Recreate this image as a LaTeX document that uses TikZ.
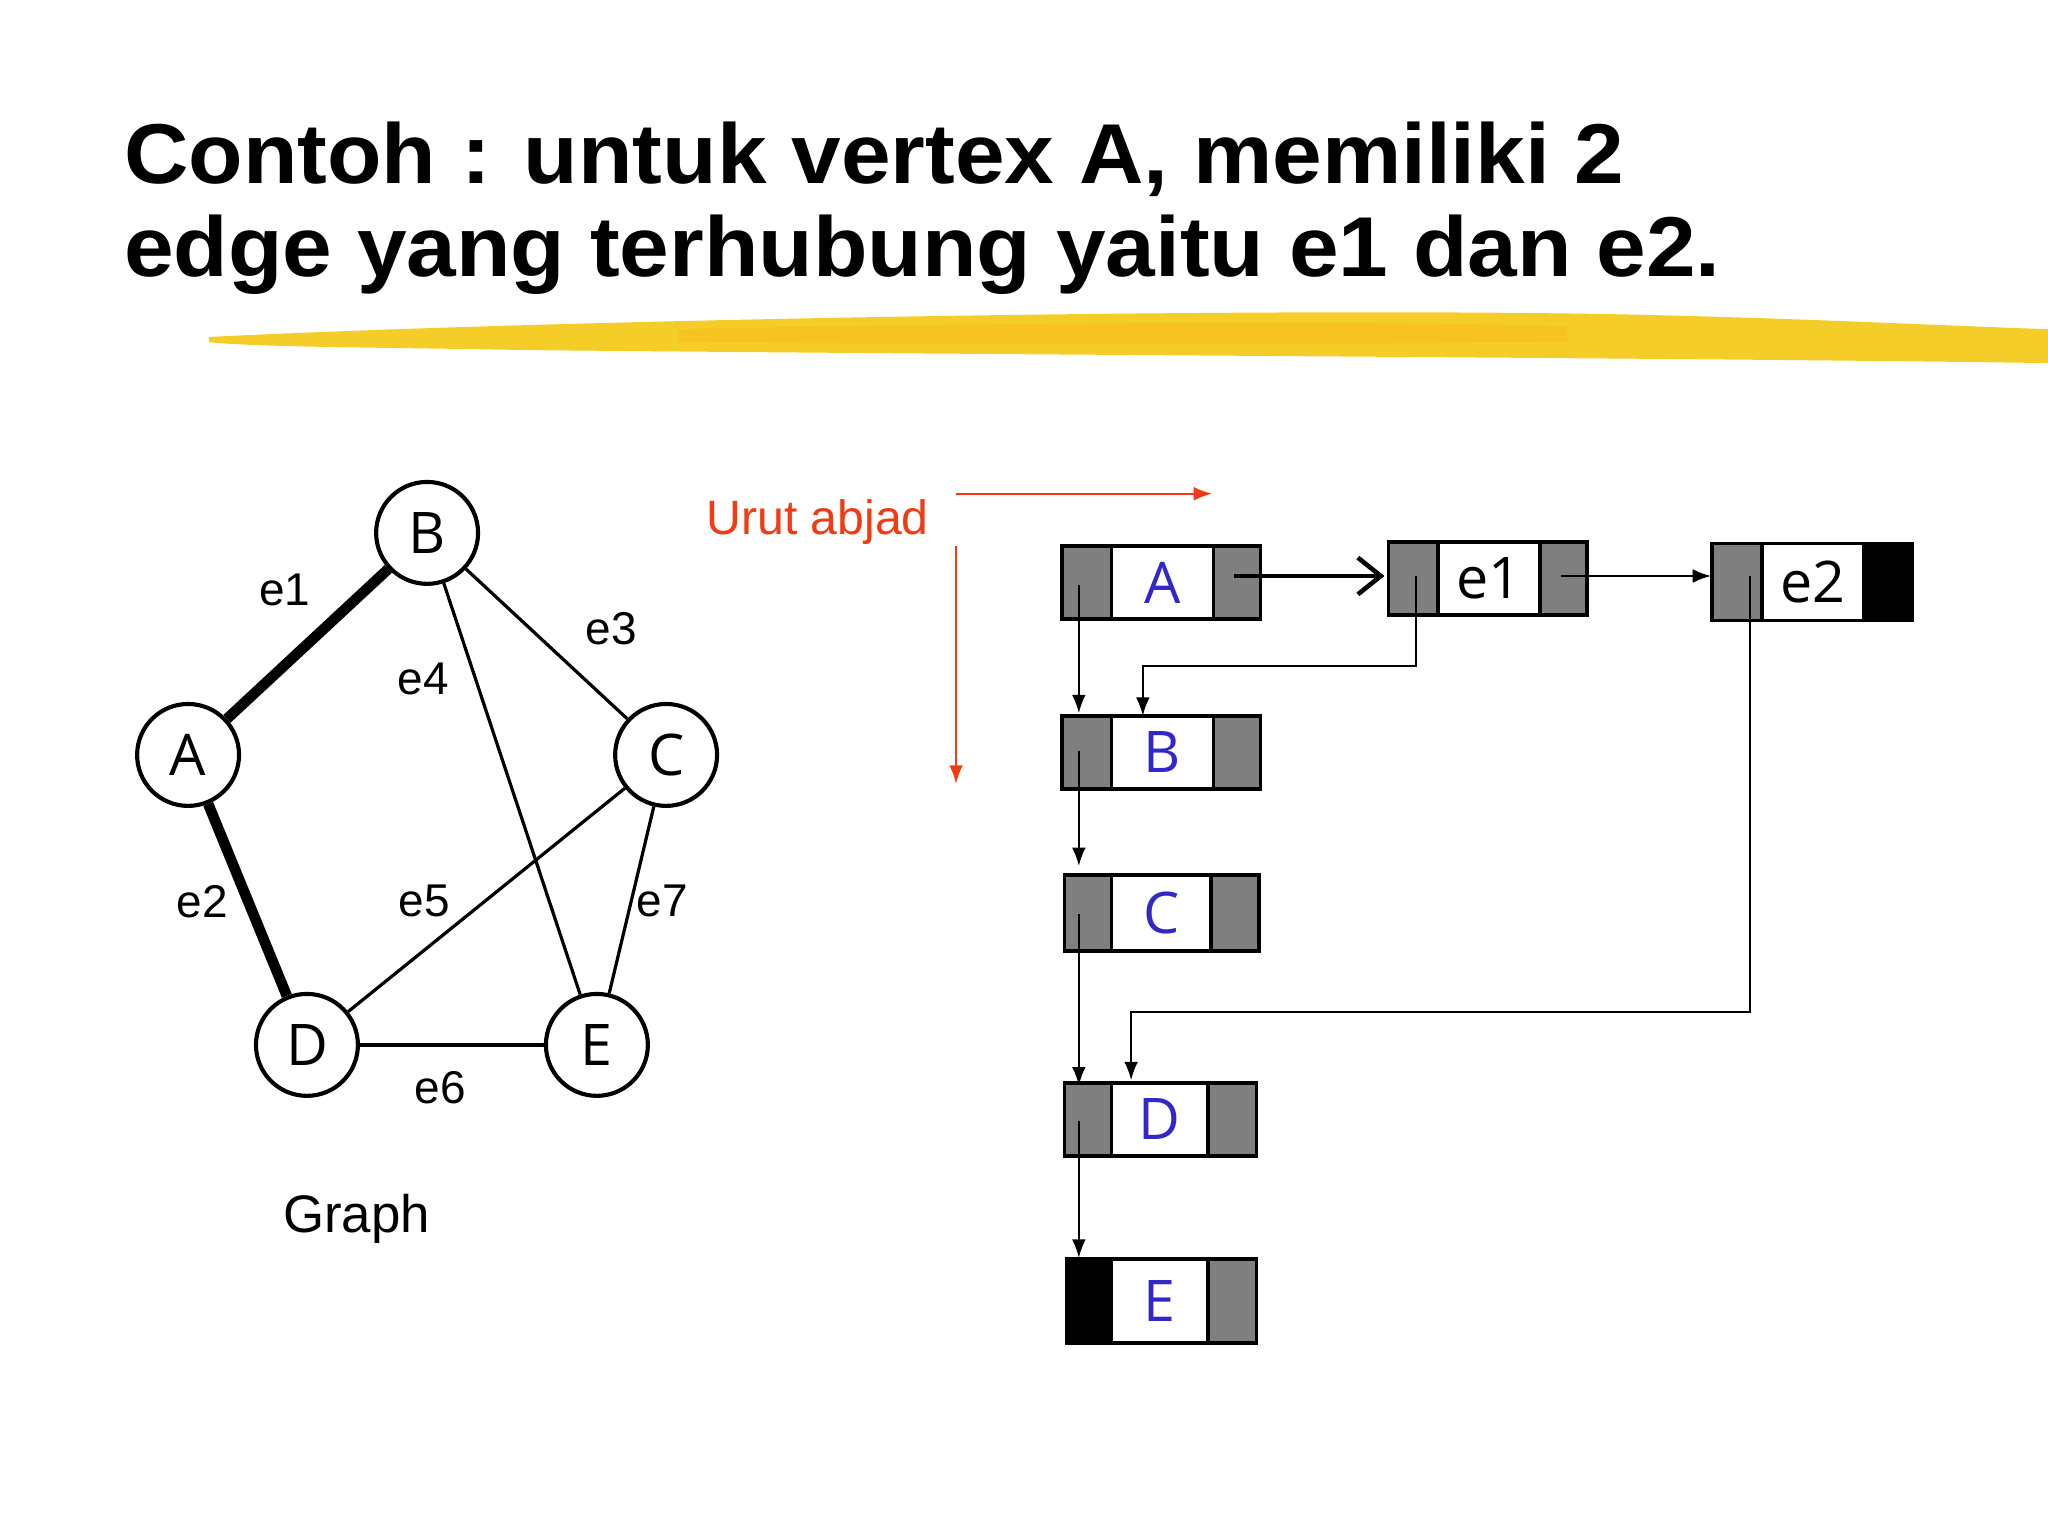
\documentclass[tikz,border=0pt]{standalone}
\usepackage{fontspec}
\setmainfont{Liberation Sans}
\newfontfamily\osans{Open Sans}
\usetikzlibrary{arrows.meta}
\definecolor{gr}{HTML}{7F7F7F}
\definecolor{bl}{RGB}{50,40,200}
\definecolor{rd}{RGB}{240,60,20}
\definecolor{yl}{RGB}{245,205,40}
\begin{document}
\begin{tikzpicture}[x=0.01cm,y=-0.01cm,
 vtx/.style={circle,draw,line width=0.9pt,minimum size=0.78cm,inner sep=0pt,font=\osans\fontsize{12.5}{12.5}\selectfont},
 lbl/.style={font=\fontsize{10}{10}\selectfont},
 cell/.style={draw,line width=0.8pt},
 ltr/.style={text=bl,font=\osans\fontsize{12.5}{12.5}\selectfont},
 thin/.style={line width=0.4pt},
 tip/.style={-{Latex[length=4pt,width=3pt]}}]
\useasboundingbox (0,0) rectangle (1568,1176);
% title
\node[anchor=west,font=\bfseries\fontsize{18.5}{18.5}\selectfont,xscale=1.05] (t1) at (82,122) {Contoh : untuk vertex A, memiliki 2};
\node[anchor=west,font=\bfseries\fontsize{18.5}{18.5}\selectfont,xscale=1.05] (t2) at (82,195) {edge yang terhubung yaitu e1 dan e2.};
% brush stroke
\fill[yl] (160,258) .. controls (400,246) and (900,236) .. (1200,240) .. controls (1350,242) and (1500,250) .. (1568,252) -- (1568,278) .. controls (1300,274) and (800,272) .. (400,268) .. controls (300,266) and (200,266) .. (160,262) -- cycle;
\fill[yl!80!orange,opacity=0.6] (520,252) .. controls (800,246) and (1100,246) .. (1200,250) -- (1200,262) .. controls (1000,264) and (700,264) .. (520,262) -- cycle;
% graph
\node[vtx] (B) at (327,408) {B};
\node[vtx] (A) at (144,578) {A};
\node[vtx] (C) at (510,578) {C};
\node[vtx] (D) at (235,800) {D};
\node[vtx] (E) at (457,800) {E};
\draw[line width=2.3pt] (A) -- (B);
\draw[line width=2.3pt] (A) -- (D);
\draw[line width=0.7pt] (B) -- (C);
\draw[line width=0.7pt] (B) -- (E);
\draw[line width=0.7pt] (C) -- (D);
\draw[line width=0.7pt] (C) -- (E);
\draw[line width=0.7pt] (D) -- (E);
\node[lbl] (le1) at (218,452) {e1};
\node[lbl] (le3) at (468,481) {e3};
\node[lbl] (le4) at (324,520) {e4};
\node[lbl] (le2) at (155,690) {e2};
\node[lbl] (le5) at (325,690) {e5};
\node[lbl] (le7) at (507,690) {e7};
\node[lbl] (le6) at (337,833) {e6};
\node[font=\fontsize{11.5}{11.5}\selectfont] (gl) at (273,933) {Graph};
% urut abjad
\node[text=rd,font=\fontsize{10.5}{10.5}\selectfont] (ua) at (626,400) {Urut abjad};
\coordinate (h1) at (732,378); \coordinate (h2) at (928,378);
\coordinate (v1) at (732,418); \coordinate (v2) at (732,600);
\draw[rd,thin,tip] (h1) -- (h2);
\draw[rd,thin,tip] (v1) -- (v2);
% boxes
\newcommand\rowbox[9]{%
 \fill[#8] (#1,#5) rectangle (#2,#6);
 \fill[#9] (#3,#5) rectangle (#4,#6);
 \draw[cell] (#1,#5) rectangle (#4,#6);
 \draw[cell] (#2,#5) -- (#2,#6);
 \draw[cell] (#3,#5) -- (#3,#6);
 \node[ltr] at ({(#2+#3)/2},{(#5+#6)/2}) {#7};}
\rowbox{813}{851}{929}{965}{418}{474}{A}{gr}{gr}
\rowbox{1063}{1101}{1179}{1215}{415}{471}{\color{black}e1}{gr}{gr}
\rowbox{1311}{1349}{1427}{1464}{416}{475}{\color{black}e2}{gr}{black}
\rowbox{813}{851}{929}{965}{548}{604}{B}{gr}{gr}
\rowbox{815}{851}{927}{964}{670}{728}{C}{gr}{gr}
\rowbox{815}{851}{925}{962}{829}{885}{D}{gr}{gr}
\rowbox{817}{851}{925}{962}{964}{1028}{E}{black}{gr}
\coordinate (pa) at (945,441); \coordinate (pe1) at (1060,441);
\coordinate (pb) at (1195,441); \coordinate (pe2) at (1310,441);
\draw[line width=1pt,-{Straight Barb[length=5pt,width=8pt]}] (pa) -- (pe1);
\draw[thin,tip] (pb) -- (pe2);
\coordinate (q1) at (1084,441); \coordinate (q2) at (875,548);
\draw[thin,tip] (q1) |- (875,510) -- (q2);
\coordinate (r1) at (1340,441); \coordinate (r2) at (866,827);
\draw[thin,tip] (r1) |- (866,775) -- (r2);
\coordinate (d1) at (826,448); \coordinate (d2) at (826,546);
\coordinate (d3) at (826,575); \coordinate (d4) at (826,663);
\coordinate (d5) at (826,700); \coordinate (d6) at (826,831);
\coordinate (d7) at (826,858); \coordinate (d8) at (826,963);
\draw[thin,tip] (d1) -- (d2);
\draw[thin,tip] (d3) -- (d4);
\draw[thin,tip] (d5) -- (d6);
\draw[thin,tip] (d7) -- (d8);
\end{tikzpicture}
\end{document}
